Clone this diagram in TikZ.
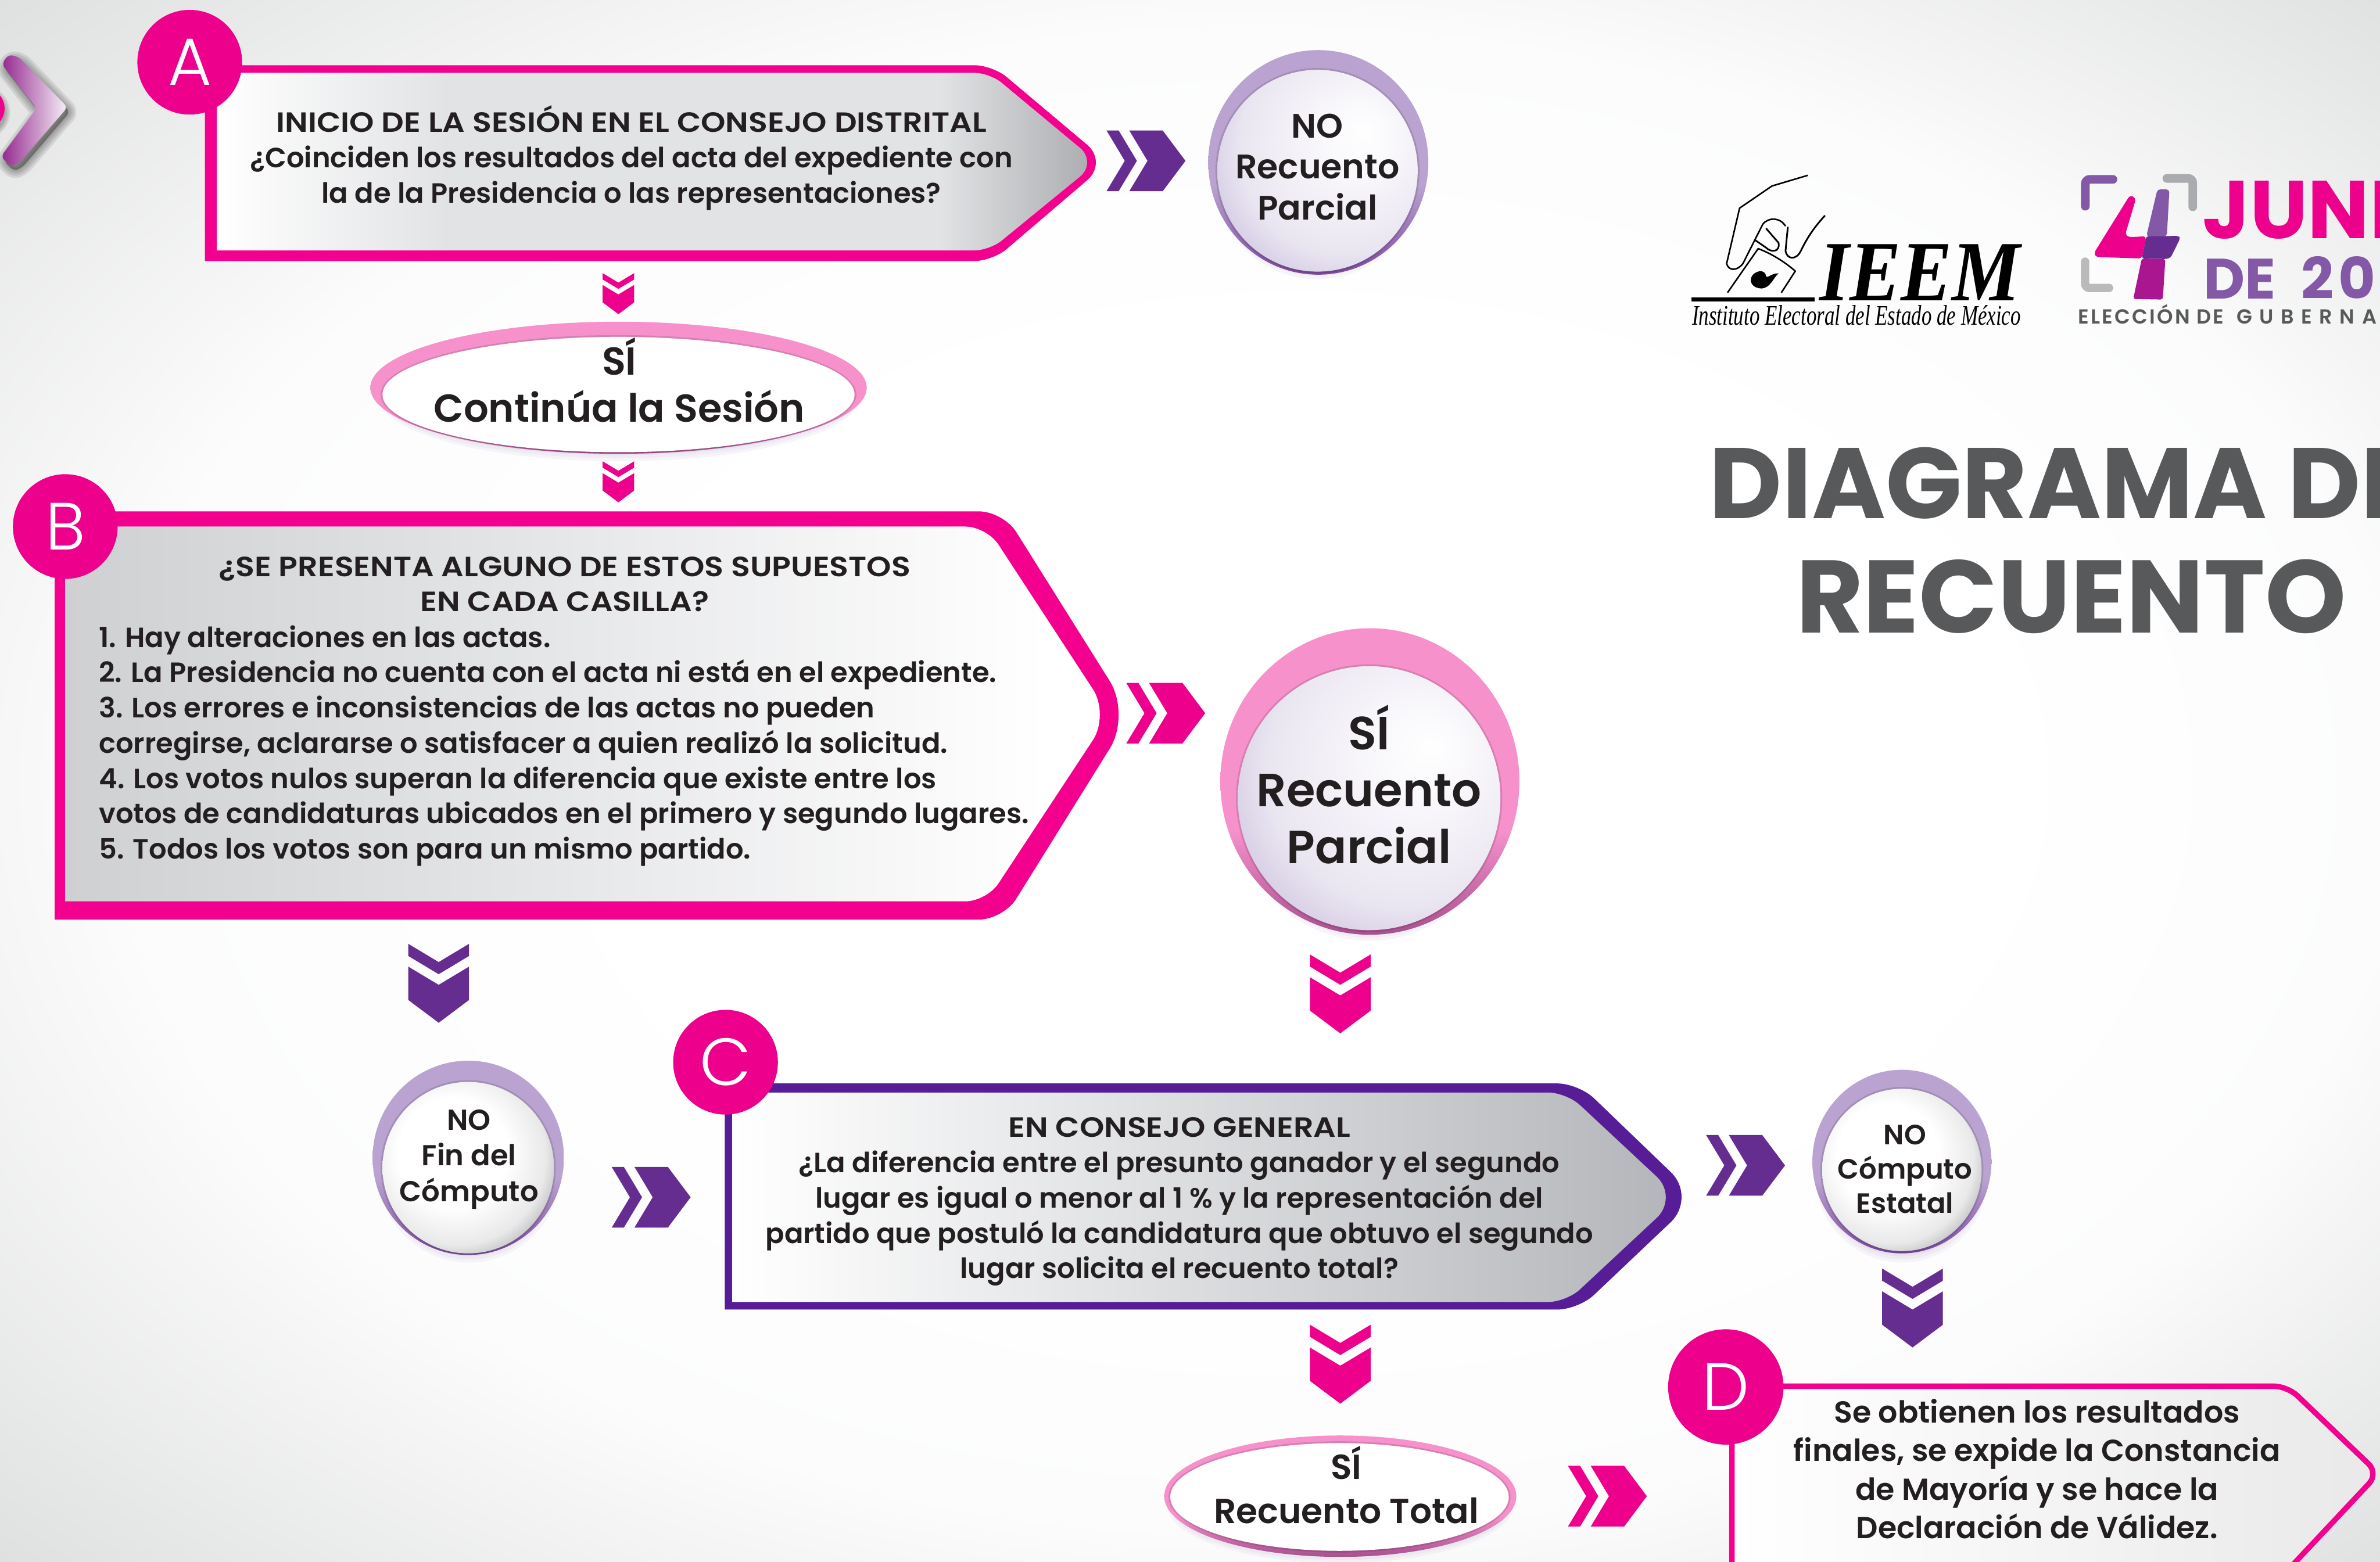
\documentclass[tikz,border=0pt]{standalone}
\usepackage{fontspec}
\setmainfont{Poppins}[UprightFont=* SemiBold,BoldFont=* Bold]
\newfontfamily\lightf{Poppins Light}
\newfontfamily\boldf{Poppins Bold}
\newfontfamily\spacedA[LetterSpace=9]{Poppins SemiBold}
\newfontfamily\spacedB[LetterSpace=36]{Poppins SemiBold}
\newfontfamily\ieemf{Liberation Serif}
\definecolor{mag}{HTML}{F4008F}
\definecolor{magb}{HTML}{EC008C}
\definecolor{purp}{HTML}{662D91}
\definecolor{cstroke}{HTML}{561D96}
\definecolor{ink}{HTML}{231F20}
\definecolor{titlegray}{HTML}{58595B}
\definecolor{logopurp}{HTML}{8358A6}
\definecolor{bgedge}{HTML}{D9DADA}
\definecolor{pinka}{HTML}{F691CB}
\definecolor{pinkb}{HTML}{A8508F}
\definecolor{lava}{HTML}{BAA3D0}
\definecolor{lavb}{HTML}{7B4B9E}
\definecolor{greyA}{HTML}{E2E3E5}
\definecolor{greyB}{HTML}{A9ABAE}
\definecolor{greyC}{HTML}{CFD0D2}
\definecolor{greyD}{HTML}{B4B5B9}
\definecolor{lavC}{HTML}{EAE6F1}
\definecolor{lavD}{HTML}{BDAFD6}
\definecolor{greyE}{HTML}{E9E9EA}
\definecolor{greyF}{HTML}{8F9093}
\definecolor{chevA}{HTML}{93278F}
\definecolor{chevB}{HTML}{C79CC9}
\definecolor{chevC}{HTML}{F7F1F8}
\pgfdeclareradialshading{bgshade}{\pgfpoint{4bp}{0bp}}{color(0bp)=(white); color(14bp)=(white); color(24bp)=(white!92!bgedge); color(38bp)=(bgedge)}
\pgfdeclarehorizontalshading{boxa}{100bp}{color(0bp)=(white); color(25bp)=(white); color(38bp)=(greyA); color(66bp)=(greyA); color(75bp)=(greyB); color(100bp)=(greyB)}
\pgfdeclarehorizontalshading{boxb}{100bp}{color(0bp)=(greyC); color(25bp)=(greyC); color(45bp)=(greyA); color(72bp)=(white); color(100bp)=(white)}
\pgfdeclarehorizontalshading{boxc}{100bp}{color(0bp)=(white); color(25bp)=(white); color(45bp)=(greyA); color(75bp)=(greyD); color(100bp)=(greyD)}
\pgfdeclarehorizontalshading{boxd}{100bp}{color(0bp)=(white); color(25bp)=(white); color(75bp)=(greyE); color(100bp)=(greyE)}
\pgfdeclareradialshading{lavball}{\pgfpoint{12bp}{10bp}}{color(0bp)=(white); color(12bp)=(white!60!lavC); color(26bp)=(lavC); color(42bp)=(lavD); color(60bp)=(lavD)}
\pgfdeclareradialshading{greyball}{\pgfpoint{-6bp}{6bp}}{color(0bp)=(white); color(16bp)=(white); color(26bp)=(greyE); color(36bp)=(greyF); color(60bp)=(greyF)}
\pgfdeclareverticalshading{pinkdisc}{100bp}{color(0bp)=(pinkb); color(25bp)=(pinkb); color(42bp)=(pinka); color(100bp)=(pinka)}
\pgfdeclareverticalshading{lavdisc}{100bp}{color(0bp)=(lavb); color(25bp)=(lavb); color(45bp)=(lava); color(100bp)=(lava)}
\newcommand{\softsh}[4]{\foreach \d in {0,2,4,6,8,10}{\fill[purp,opacity=.045] (#1,#2) ellipse ({#3+\d} and {#4+\d});}}
\newcommand{\rimsh}[4]{\fill[black,opacity=.12] (#1,#2) ellipse ({#3+1.2} and {#4+1.2});}
\newcommand{\capsline}[1]{\scalebox{1.125}[1]{#1}}
\tikzset{
  chevr/.pic={
    \fill[pic actions] (0,0)--(8,0)--(20,20)--(8,40)--(0,40)--(12,20)--cycle;
    \fill[pic actions] (15,0)--(37,0)--(52,20)--(37,40)--(15,40)--(27,20)--cycle;
  },
  chevd/.pic={
    \fill[pic actions] (0,0)--(0,8)--(20,20)--(40,8)--(40,0)--(20,12)--cycle;
    \fill[pic actions] (0,15)--(0,37)--(20,52)--(40,37)--(40,15)--(20,27)--cycle;
  },
  lettercircle/.style={circle,fill=magb,text=white,minimum size=#1,inner sep=0pt,font=\lightf\fontsize{44}{44}\selectfont},
  boxtext/.style={text=ink,align=center,inner sep=0pt,font=\fontsize{#1}{23.25}\selectfont},
  balltext/.style={text=ink,align=center,inner sep=0pt},
}
\begin{document}
\begin{tikzpicture}[x=1pt,y=-1pt]
\useasboundingbox (0,0) rectangle (1568,1029);
\clip (0,0) rectangle (1568,1029);
\shade[shading=bgshade] (0,0) rectangle (1568,1029);

% left entry chevron
\foreach \w in {11,8,5,2}{
  \fill[black,opacity=.08] (-10.8,74) circle ({13.8+\w/3});
  \draw[black,opacity=.09,line width=\w pt,line join=round,fill=black,rounded corners=3pt] (3.2,45.4)--(7.5,38.9)--(14.3,40.5)--(46,73.7)--(14.9,110)--(9.4,112.7)--(2.6,106.3)--(26.2,74.3)--cycle;
}
\fill[magb] (-10.8,71.5) circle (13.8);
\shade[left color=chevA,middle color=chevB,right color=chevC,rounded corners=3pt] (1.2,42.4)--(5.5,35.9)--(12.3,37.5)--(44.5,70.7)--(12.9,107)--(7.4,109.7)--(.6,103.3)--(24.2,71.3)--cycle;

% Box A
\fill[mag] (135,43) [rounded corners=12pt] -- (654,43) [rounded corners=18pt] -- (730,107) [rounded corners=12pt] -- (654,172) [sharp corners] -- (135,172) -- cycle;
\shade[shading=boxa] (143,48) [rounded corners=10pt] -- (652,48) [rounded corners=15pt] -- (723,107) [rounded corners=10pt] -- (652,165) [sharp corners] -- (143,165) -- cycle;
\node[lettercircle=69pt] (a) at (125,41) {A};
\node[boxtext=18.36] (atext) at (416,104) {\capsline{INICIO DE LA SESIÓN EN EL CONSEJO DISTRITAL}\\¿Coinciden los resultados del acta del expediente con\\la de la Presidencia o las representaciones?};

% Box B
\fill[mag] (36,337) [rounded corners=16pt] -- (661,337) [rounded corners=26pt] -- (745,471) [rounded corners=16pt] -- (661,606) [sharp corners] -- (36,606) -- cycle;
\shade[shading=boxb] (43,347) [rounded corners=14pt] -- (650,347) [rounded corners=20pt] -- (731,471) [rounded corners=14pt] -- (650,594) [sharp corners] -- (43,594) -- cycle;
\node[lettercircle=69pt] (b) at (43,347) {B};
\node[boxtext=18.36] (bhead) at (372,385) {\capsline{¿SE PRESENTA ALGUNO DE ESTOS SUPUESTOS}\\\capsline{EN CADA CASILLA?}};
\node[boxtext=18.36,align=left,anchor=west] (blist) at (65,491.5) {1. Hay alteraciones en las actas.\\2. La Presidencia no cuenta con el acta ni está en el expediente.\\3. Los errores e inconsistencias de las actas no pueden\\corregirse, aclararse o satisfacer a quien realizó la solicitud.\\4. Los votos nulos superan la diferencia que existe entre los\\votos de candidaturas ubicados en el primero y segundo lugares.\\5. Todos los votos son para un mismo partido.};

% Box C
\fill[cstroke] (477.5,714) [rounded corners=14pt] -- (1040,714) [rounded corners=24pt] -- (1118,789) [rounded corners=14pt] -- (1040,863) [sharp corners] -- (477.5,863) -- cycle;
\shade[shading=boxc] (482.5,720) [rounded corners=12pt] -- (1032,720) [rounded corners=20pt] -- (1106,789) [rounded corners=12pt] -- (1032,858) [sharp corners] -- (482.5,858) -- cycle;
\node[lettercircle=69pt] (c) at (478,700) {C};
\node[boxtext=18.36] (ctext) at (777,792) {\capsline{EN CONSEJO GENERAL}\\¿La diferencia entre el presunto ganador y el segundo\\lugar es igual o menor al 1 \% y la representación del\\partido que postuló la candidatura que obtuvo el segundo\\lugar solicita el recuento total?};

% Box D
\shade[shading=boxd] (1141,914) -- (1507,914) -- (1564,971) -- (1507,1040) -- (1141,1040) -- cycle;
\draw[mag,line width=3.6pt] (1141,1040) -- (1141,913.5) [rounded corners=9pt] -- (1507,913.5) -- (1567,971) -- (1507,1035);
\node[lettercircle=76pt] (d) at (1137,914) {D};
\node[text=ink,align=center,inner sep=0pt,font=\fontsize{20}{25.4}\selectfont] (dtext) at (1342,968) {Se obtienen los resultados\\finales, se expide la Constancia\\de Mayoría y se hace la\\Declaración de Válidez.};

% NO Recuento Parcial
\softsh{868}{116}{58}{58}
\shade[shading=lavdisc] (868.5,107) ellipse (72.5 and 74);
\rimsh{868}{112.5}{66}{66.5}
\shade[shading=lavball] (868,112.5) ellipse (66 and 66.5);
\node[balltext,font=\fontsize{22.4}{27}\selectfont] (n1) at (868,110) {NO\\Recuento\\Parcial};

% SI Continua la Sesion
\softsh{408}{262}{148}{32}
\shade[shading=pinkdisc] (407.5,255.5) ellipse (163.5 and 43.5);
\rimsh{407.5}{260}{155.5}{38}
\fill[white] (407.5,260) ellipse (155.5 and 38);
\node[balltext,font=\fontsize{25.7}{31}\selectfont] (s1) at (408,250.5) {SÍ\\Continúa la Sesión};

% SI Recuento Parcial
\softsh{902}{530}{78}{80}
\shade[shading=pinkdisc] (902.5,515) ellipse (98.5 and 101);
\rimsh{902}{526}{86.5}{87}
\shade[shading=lavball] (902,526) ellipse (86.5 and 87);
\node[balltext,font=\fontsize{30.7}{37.5}\selectfont] (s2) at (902,517) {SÍ\\Recuento\\Parcial};

% NO Fin del Computo
\softsh{309}{772}{50}{50}
\shade[shading=lavdisc] (308.5,763) ellipse (63 and 64);
\rimsh{308.5}{769.5}{56.5}{56.5}
\shade[shading=greyball] (308.5,769.5) ellipse (56.5 and 56.5);
\node[balltext,font=\fontsize{19}{23.5}\selectfont] (n2) at (309,764) {NO\\Fin del\\Cómputo};

% NO Computo Estatal
\softsh{1253}{774}{47}{48}
\shade[shading=lavdisc] (1253,765.5) ellipse (59 and 60.5);
\rimsh{1253}{771}{52.5}{53.5}
\shade[shading=greyball] (1253,771) ellipse (52.5 and 53.5);
\node[balltext,font=\fontsize{18.4}{22.7}\selectfont] (n3) at (1255,770.5) {NO\\Cómputo\\Estatal};

% SI Recuento Total
\softsh{883}{992}{104}{28}
\shade[shading=pinkdisc] (883,986) ellipse (116 and 40);
\rimsh{882.5}{986.5}{111.5}{35.5}
\fill[white] (882.5,986.5) ellipse (111.5 and 35.5);
\node[balltext,font=\fontsize{22.9}{29}\selectfont] (s3) at (887,978.5) {SÍ\\Recuento Total};

% chevrons
\pic[fill=purp] at (729,86) {chevr};
\pic[fill=magb] at (742,450) {chevr};
\pic[fill=purp] at (403,769) {chevr};
\pic[fill=purp] at (1124,748) {chevr};
\pic[fill=magb] at (1033,966) {chevr};
\pic[fill=magb,scale=.52] at (397,180) {chevd};
\pic[fill=magb,scale=.52] at (397,304) {chevd};
\pic[fill=purp] at (269,622) {chevd};
\pic[fill=magb] at (863,629) {chevd};
\pic[fill=magb] at (863,873) {chevd};
\pic[fill=purp] at (1240,836) {chevd};

% IEEM logo
\begin{scope}[shift={(1088.6,92.25)},x=.3057pt,y=-.2118pt]
\fill[black] (84,490) rectangle (350,503);
\draw[black,line width=1pt,line join=round] (335,110)--(258,143)--(188,212)--(160,385) .. controls (165,408) and (182,408) .. (195,385) -- (238,262) .. controls (250,240) and (275,240) .. (287,268);
\draw[black,line width=1.1pt,line join=round] (245,275)--(272,320) .. controls (276,350) and (255,350) .. (245,335) -- (222,312);
\draw[black,line width=1.1pt,line join=round] (292,270)--(287,345) .. controls (290,372) and (310,375) .. (320,345) .. controls (335,300) and (350,270) .. (372,235);
\draw[black,line width=1pt,line join=round] (162,475)--(228,338) .. controls (260,355) and (290,385) .. (308,408) -- (278,475);
\fill[black] (232,408) .. controls (205,415) and (205,460) .. (235,462) .. controls (255,460) and (260,430) .. (272,415) .. controls (255,415) and (250,430) .. (245,425) .. controls (245,415) and (240,408) .. (232,408) -- cycle;
\node[inner sep=0pt,anchor=south west] (ieem) at (360,500) {\resizebox{132pt}{37pt}{\ieemf\bfseries\itshape IEEM}};
\node[inner sep=0pt,anchor=south west] (ieemsub) at (85,578) {\resizebox{216.5pt}{13pt}{\ieemf\itshape Instituto Electoral del Estado de México}};
\end{scope}

% 4 de junio logo
\begin{scope}[shift={(1346.9,103.3)},x=.141pt,y=-.123pt]
\draw[logopurp,line width=5.7pt,line cap=round,rounded corners=3pt] (191,265)--(191,121)--(320,121);
\draw[greyB,line width=5.7pt,line cap=round,rounded corners=3pt] (572,116)--(693,116)--(693,268);
\draw[black!27,line width=5.5pt,line cap=round,rounded corners=3pt] (190,562)--(190,703)--(302,703);
\fill[magb,rounded corners=2pt] (400,205)--(428,222)--(378,415)--(392,431)--(476,426)--(455,545)--(240,537)--(232,515)--cycle;
\fill[logopurp,rounded corners=2pt] (528,174)--(584,175)--(572,427)--(476,427)--cycle;
\fill[purp,rounded corners=1.5pt] (476,426)--(628,424)--(634,438)--(590,540)--(570,548)--(455,545)--cycle;
\fill[magb!50!purp,rounded corners=1.5pt] (455,545)--(565,548)--(553,765)--(415,762)--cycle;
\end{scope}
\node[inner sep=0pt,anchor=base west,text=magb,font=\boldf\fontsize{54}{54}\selectfont] (junio) at (1451,157) {JUNIO};
\node[inner sep=0pt,anchor=base west,text=logopurp,font=\boldf\fontsize{37.5}{38}\selectfont] (de) at (1451.5,197) {DE\kern9pt{} 2\kern3pt{}0\kern5pt{}23};
\node[inner sep=0pt,anchor=base west,text=titlegray,font=\fontsize{13.4}{14}\selectfont] (elec) at (1369,213.6) {{\spacedA ELECCIÓN DE\kern4pt{} }{\spacedB GUBERNATURA}};

% title
\node[inner sep=0pt,anchor=base west,text=titlegray,font=\boldf\fontsize{66}{66}\selectfont] (t1) at (1126,341.5) {DIAGRAMA DE};
\node[inner sep=0pt,anchor=base,text=titlegray,font=\boldf\fontsize{68}{68}\selectfont] (t2) at (1364.5,417) {RECUENTO};
\end{tikzpicture}
\end{document}
